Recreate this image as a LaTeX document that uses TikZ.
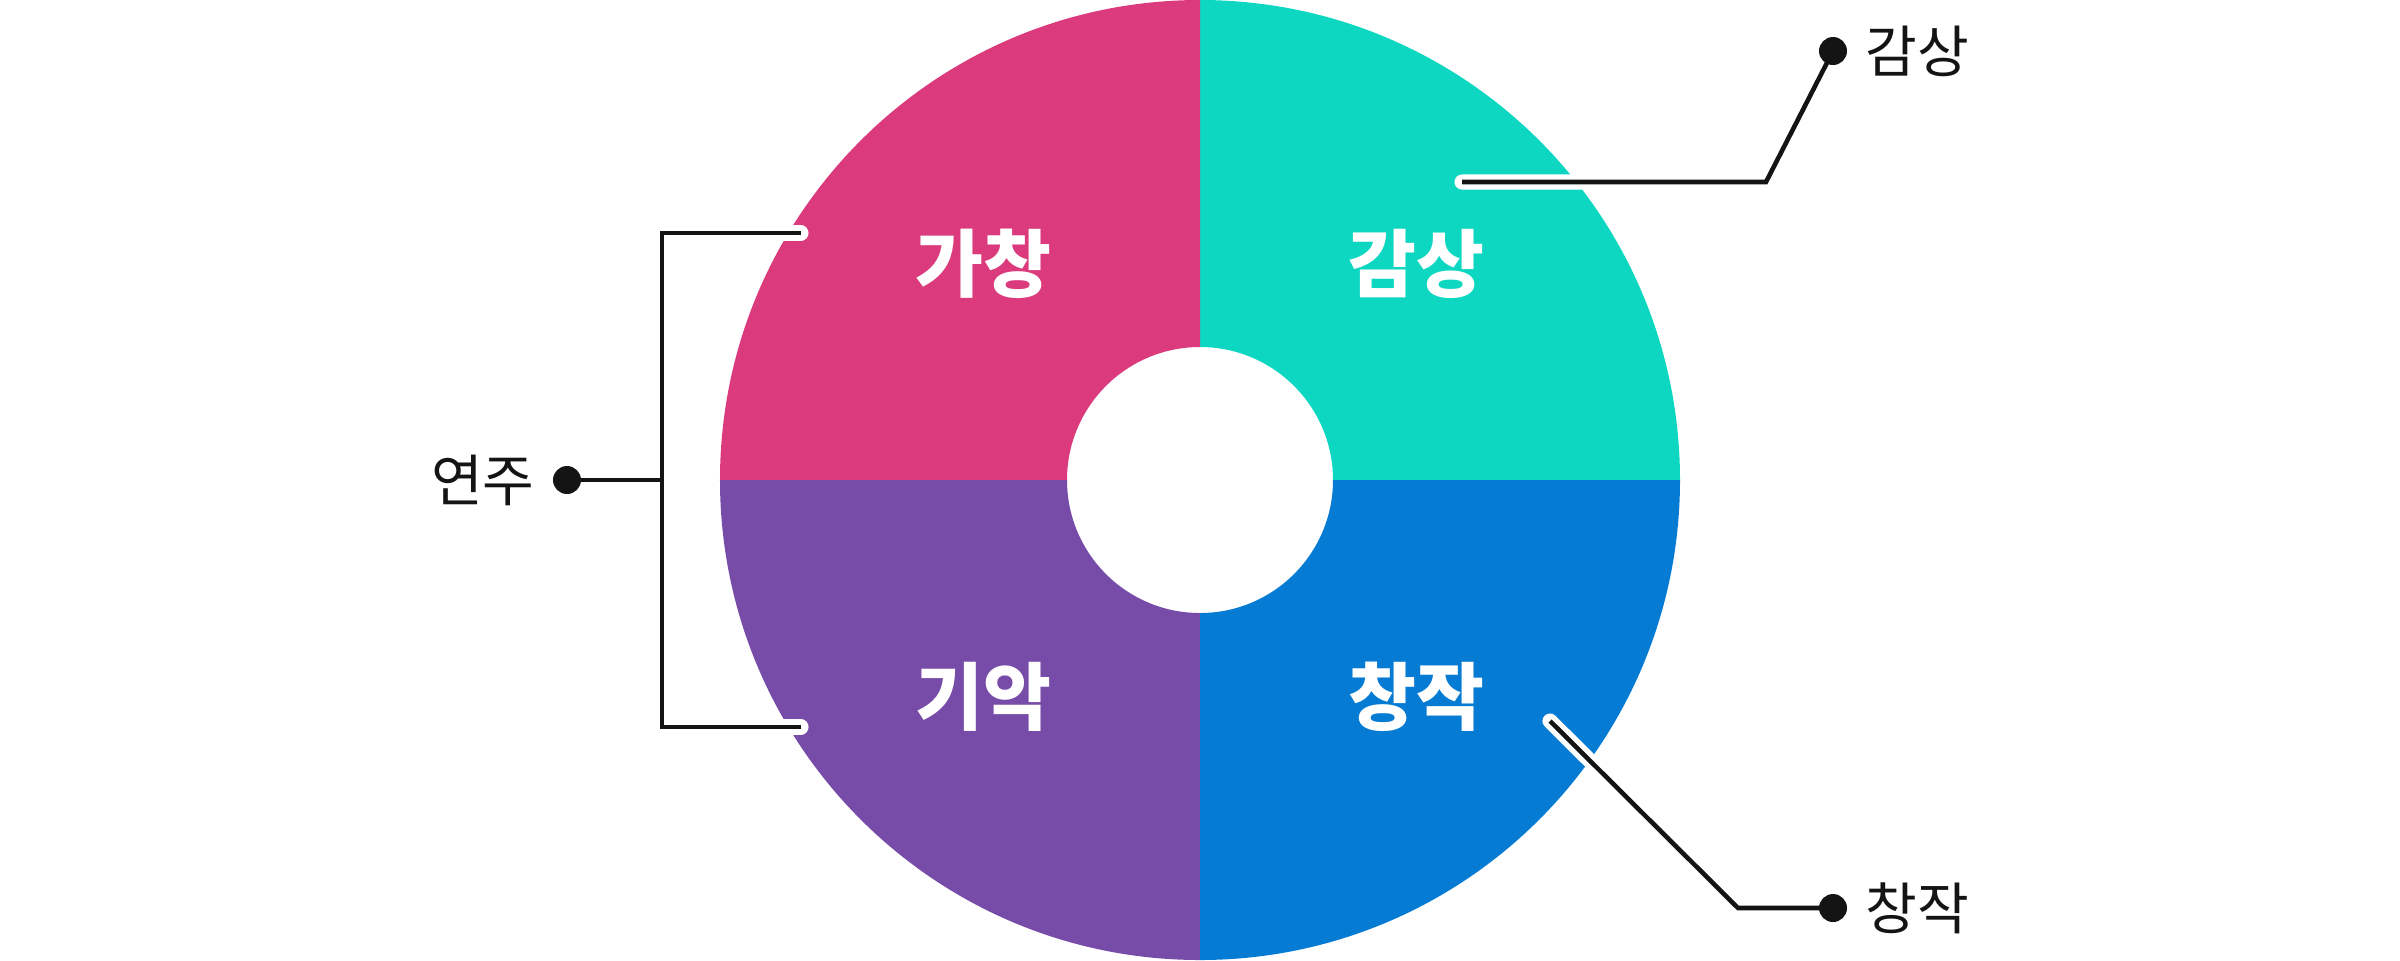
\documentclass[tikz,border=0pt]{standalone}
\usepackage{fontspec}
\newfontfamily\kr{Noto Sans CJK KR}
\usetikzlibrary{positioning}
\definecolor{gachangpink}{HTML}{DB3B7C}
\definecolor{gamsangteal}{HTML}{0DD7C1}
\definecolor{giakpurple}{HTML}{774BA8}
\definecolor{changjakblue}{HTML}{057BD4}
\definecolor{inkdark}{HTML}{141414}

\begin{document}
\begin{tikzpicture}
[leader/.style={draw=inkdark,line width=1.3pt,%
    preaction={draw=white,line width=4.3pt,line cap=round}},%
  ringlabel/.style={text=white,inner sep=0pt,font=\kr\bfseries\fontsize{21}{24}\selectfont},%
  sidelabel/.style={text=inkdark,inner sep=0pt,font=\kr\fontsize{16}{19}\selectfont},%
  enddot/.style={circle,fill=inkdark,inner sep=0pt,minimum size=0.28cm}]
\useasboundingbox (-12,-4.8) rectangle (12,4.8);
% ring quarters
\foreach \a/\c in {0/gamsangteal,90/gachangpink,180/giakpurple,270/changjakblue}
  \fill[\c] (\a:4.8) arc[start angle=\a,delta angle=90,radius=4.8]
    -- (\a+90:1.33) arc[start angle=\a+90,delta angle=-90,radius=1.33] -- cycle;
\node[ringlabel] (gachang) at (135:3.06) {가창};
\node[ringlabel] (gamsang) at (45:3.06) {감상};
\node[ringlabel] (giak) at (225:3.06) {기악};
\node[ringlabel] (changjak) at (315:3.06) {창작};
% leader points
\coordinate (yeonjupt) at (-6.33,0);
\coordinate (brackmid) at (-5.38,0);
\coordinate (brackup) at (-5.38,2.47);
\coordinate (brackdown) at (-5.38,-2.47);
\coordinate (gachangend) at (-3.99,2.47);
\coordinate (giakend) at (-3.99,-2.47);
\coordinate (gamsangend) at (2.62,2.98);
\coordinate (gamsangbend) at (5.66,2.98);
\coordinate (gamsangpt) at (6.33,4.29);
\coordinate (changjakend) at (3.50,-2.41);
\coordinate (changjakbend) at (5.38,-4.28);
\coordinate (changjakpt) at (6.33,-4.28);
\draw[leader] (gachangend) -- (brackup) -- (brackdown) -- (giakend)
  (brackmid) -- (yeonjupt);
\draw[leader] (gamsangend) -- (gamsangbend) -- (gamsangpt);
\draw[leader] (changjakend) -- (changjakbend) -- (changjakpt);
% dots and outer labels
\node[enddot] (yeonjudot) at (yeonjupt) {};
\node[sidelabel,left=0.17cm of yeonjudot] (yeonju) {연주};
\node[enddot] (gamsangdot) at (gamsangpt) {};
\node[sidelabel,right=0.17cm of gamsangdot] (gamsangside) {감상};
\node[enddot] (changjakdot) at (changjakpt) {};
\node[sidelabel,right=0.17cm of changjakdot] (changjakside) {창작};
\end{tikzpicture}
\end{document}
